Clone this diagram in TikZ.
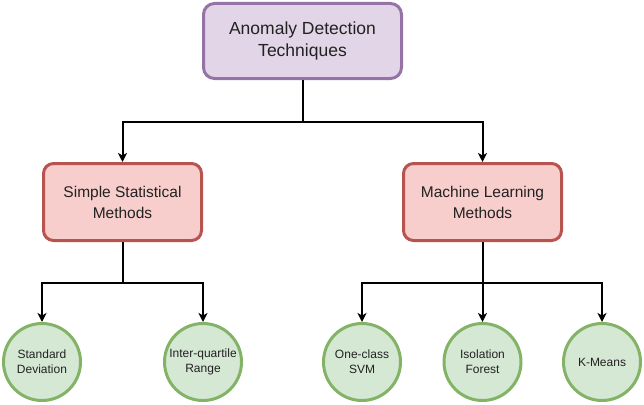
\documentclass[tikz,border=0pt]{standalone}
\usepackage{fontspec}
\setmainfont{Liberation Sans}
\usetikzlibrary{arrows.meta}
\definecolor{pfill}{HTML}{E1D5E7}
\definecolor{pdraw}{HTML}{9673A6}
\definecolor{rfill}{HTML}{F8CECC}
\definecolor{rdraw}{HTML}{B85450}
\definecolor{gfill}{HTML}{D5E8D4}
\definecolor{gdraw}{HTML}{82B366}
\definecolor{txt}{HTML}{222222}
\tikzset{
  topbox/.style={draw=pdraw, fill=pfill, line width=3pt, rounded corners=11pt,
    minimum width=198pt, minimum height=75pt, align=center, inner sep=0pt,
    text=txt, font=\fontsize{17.5}{22}\selectfont},
  midbox/.style={draw=rdraw, fill=rfill, line width=3pt, rounded corners=10pt,
    minimum width=158pt, minimum height=77pt, align=center, inner sep=0pt,
    text=txt, font=\fontsize{15.5}{21}\selectfont},
  leaf/.style={draw=gdraw, fill=gfill, line width=3pt, circle, minimum size=77pt,
    align=center, inner sep=0pt, text=txt, font=\fontsize{12}{15}\selectfont},
  conn/.style={line width=2pt, -{Stealth[length=9pt,width=9pt,inset=2.5pt]}},
  plain/.style={line width=2pt}
}
\begin{document}
\begin{tikzpicture}[x=1pt,y=-1pt]
\useasboundingbox (0,0) rectangle (644,404);
\node[topbox] (top) at (302.5,41) {Anomaly Detection\\Techniques};
\node[midbox] (ss) at (122.5,202) {Simple Statistical\\Methods};
\node[midbox] (ml) at (482.5,202) {Machine Learning\\Methods};
\node[leaf] (sd) at (42,362) {Standard\\Deviation};
\node[leaf] (iq) at (203,362) {Inter-quartile\\Range};
\node[leaf] (oc) at (362,362) {One-class\\SVM};
\node[leaf] (if) at (482.5,362) {Isolation\\Forest};
\node[leaf] (km) at (602,362) {K-Means};
\coordinate (j1) at (302.5,122);
\coordinate (j2) at (122.5,283);
\coordinate (j3) at (482.5,283);
\draw[plain] (top.south) -- (j1);
\draw[conn] (j1) -| (ss.north);
\draw[conn] (j1) -| (ml.north);
\draw[plain] (ss.south) -- (j2);
\draw[conn] (j2) -| (sd.north);
\draw[conn] (j2) -| (iq.north);
\draw[conn] (ml.south) -- (if.north);
\draw[conn] (j3) -| (oc.north);
\draw[conn] (j3) -| (km.north);
\end{tikzpicture}
\end{document}
